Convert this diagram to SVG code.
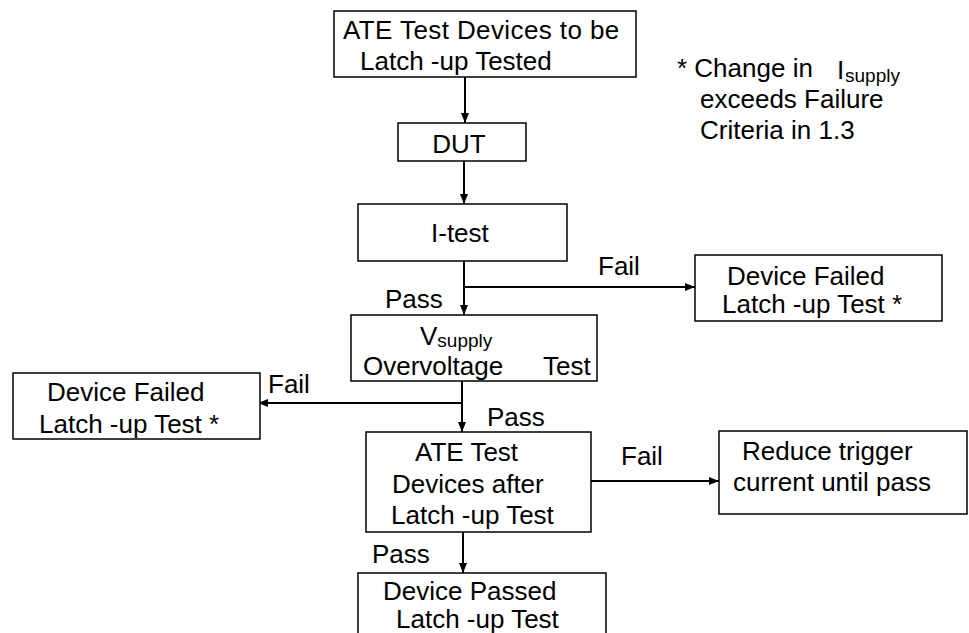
<svg xmlns="http://www.w3.org/2000/svg" width="969" height="633" viewBox="0 0 969 633">
<style>
  .box { fill: #ffffff; stroke: #000000; stroke-width: 1.5; }
  .t { font-family: "Liberation Sans", Arial, sans-serif; font-size: 26px; fill: #000000; }
  .sub { font-size: 19px; }
  .conn { stroke: #000000; stroke-width: 2; fill: none; }
</style>
<defs>
  <marker id="arrow" markerWidth="10" markerHeight="8" refX="10" refY="4" orient="auto" markerUnits="userSpaceOnUse">
    <path d="M0,0 L10,4 L0,8 Z" fill="#000000"/>
  </marker>
</defs>
<rect width="969" height="633" fill="#ffffff"/>

<g id="connectors">
  <line class="conn" x1="465" y1="77" x2="465" y2="123" marker-end="url(#arrow)"/>
  <line class="conn" x1="464" y1="161" x2="464" y2="204" marker-end="url(#arrow)"/>
  <line class="conn" x1="464" y1="261" x2="464" y2="315" marker-end="url(#arrow)"/>
  <line class="conn" x1="464" y1="287" x2="695" y2="287" marker-end="url(#arrow)"/>
  <line class="conn" x1="462" y1="381" x2="462" y2="432" marker-end="url(#arrow)"/>
  <line class="conn" x1="462" y1="403" x2="258" y2="403" marker-end="url(#arrow)"/>
  <line class="conn" x1="591" y1="481" x2="719" y2="481" marker-end="url(#arrow)"/>
  <line class="conn" x1="463" y1="532" x2="463" y2="573" marker-end="url(#arrow)"/>
  <text class="t" x="598" y="275">Fail</text>
  <text class="t" x="385" y="308">Pass</text>
  <text class="t" x="268" y="393">Fail</text>
  <text class="t" x="487" y="426">Pass</text>
  <text class="t" x="621" y="465">Fail</text>
  <text class="t" x="372" y="563">Pass</text>
</g>

<g id="start">
  <rect class="box" x="334" y="11" width="302" height="66"/>
  <text class="t" x="343" y="39" letter-spacing="0.4">ATE Test Devices to be</text>
  <text class="t" x="360" y="70">Latch -up Tested</text>
</g>

<g id="dut">
  <rect class="box" x="398" y="123" width="128" height="38"/>
  <text class="t" x="459" y="153" text-anchor="middle">DUT</text>
</g>

<g id="itest">
  <rect class="box" x="358" y="204" width="209" height="57"/>
  <text class="t" x="431" y="242">I-test</text>
</g>

<g id="vsupply">
  <rect class="box" x="351" y="315" width="246" height="66"/>
  <text class="t" x="420" y="345">V<tspan class="sub" dy="2">supply</tspan></text>
  <text class="t" x="363" y="375">Overvoltage<tspan x="543">Test</tspan></text>
</g>

<g id="fail1">
  <rect class="box" x="695" y="255" width="247" height="66"/>
  <text class="t" x="727" y="285">Device Failed</text>
  <text class="t" x="722" y="313">Latch -up Test *</text>
</g>

<g id="fail2">
  <rect class="box" x="13" y="373" width="247" height="66"/>
  <text class="t" x="47" y="401">Device Failed</text>
  <text class="t" x="39" y="433">Latch -up Test *</text>
</g>

<g id="ate2">
  <rect class="box" x="366" y="432" width="225" height="100"/>
  <text class="t" x="415" y="461">ATE Test</text>
  <text class="t" x="392" y="493">Devices after</text>
  <text class="t" x="391" y="524">Latch -up Test</text>
</g>

<g id="reduce">
  <rect class="box" x="719" y="431" width="248" height="83"/>
  <text class="t" x="742" y="460">Reduce trigger</text>
  <text class="t" x="733" y="491">current until pass</text>
</g>

<g id="passed">
  <rect class="box" x="358" y="573" width="248" height="70"/>
  <text class="t" x="383" y="600">Device Passed</text>
  <text class="t" x="396" y="628">Latch -up Test</text>
</g>

<g id="note">
  <text class="t" x="677" y="77">* Change in</text>
  <text class="t" x="837" y="79">I<tspan class="sub" x="845" dy="3">supply</tspan></text>
  <text class="t" x="700" y="108">exceeds Failure</text>
  <text class="t" x="700" y="139">Criteria in 1.3</text>
</g>
</svg>
